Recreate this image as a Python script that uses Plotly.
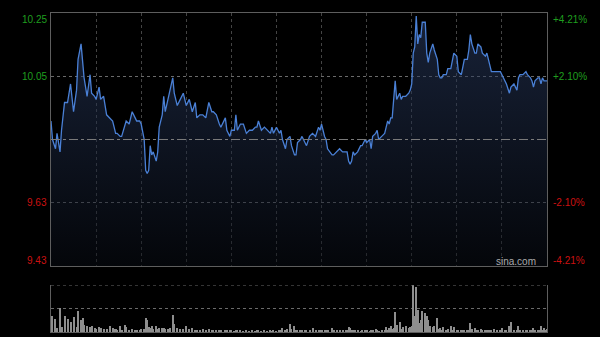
import plotly.graph_objects as go

# Intraday minute index (0 = 09:30, 330 = 16:00, HK session without lunch gap)
minutes = [
    0, 1, 3, 4, 6, 7, 9, 11, 13, 15,
    17, 18, 20, 21, 22, 24, 26, 27, 29, 30,
    32, 33, 35, 37, 39, 41, 42, 43, 44, 46,
    47, 49, 50, 52, 54, 56, 57, 59, 60, 62,
    63, 64, 65, 66, 67, 68, 70, 71, 72, 74,
    75, 76, 78, 79, 81, 82, 84, 86, 88, 90,
    92, 94, 96, 97, 99, 101, 103, 105, 107, 108,
    110, 112, 113, 116, 117, 119, 120, 122, 123, 124,
    126, 128, 130, 132, 134, 136, 137, 138, 140, 142,
    144, 146, 147, 148, 150, 152, 153, 154, 156, 157,
    159, 160, 162, 163, 164, 166, 167, 169, 170, 172,
    174, 176, 178, 179, 180, 182, 183, 184, 187, 188,
    190, 192, 194, 196, 197, 198, 199, 200, 201, 202,
    204, 206, 207, 209, 210, 212, 213, 214, 216, 217,
    218, 220, 222, 223, 224, 225, 226, 227, 228, 229,
    230, 232, 233, 234, 236, 238, 239, 240, 241, 242,
    243, 244, 245, 246, 247, 249, 250, 251, 252, 254,
    255, 257, 258, 259, 260, 261, 263, 264, 266, 267,
    268, 270, 271, 273, 274, 275, 277, 278, 279, 280,
    282, 283, 284, 286, 287, 289, 290, 291, 292, 293,
    295, 297, 299, 300, 302, 303, 305, 306, 308, 310,
    311, 312, 314, 316, 317, 319, 320, 321, 322, 324,
    325, 326, 327, 328, 329, 330,
]

prices = [
    9.90, 9.84, 9.81, 9.86, 9.80, 9.87, 9.96, 9.96, 10.02, 9.93,
    10.00, 10.10, 10.15, 10.10, 10.04, 9.98, 10.05, 9.99, 9.98, 9.97,
    10.01, 9.97, 9.98, 9.92, 9.91, 9.90, 9.88, 9.86, 9.86, 9.85,
    9.85, 9.89, 9.90, 9.89, 9.93, 9.91, 9.90, 9.90, 9.89, 9.84,
    9.74, 9.73, 9.74, 9.82, 9.79, 9.80, 9.77, 9.80, 9.88, 9.92,
    9.98, 9.93, 9.97, 9.99, 10.04, 9.99, 9.95, 9.97, 9.99, 9.95,
    9.97, 9.93, 9.96, 9.91, 9.92, 9.92, 9.91, 9.96, 9.93, 9.93,
    9.92, 9.89, 9.88, 9.91, 9.87, 9.85, 9.87, 9.87, 9.92, 9.87,
    9.89, 9.89, 9.86, 9.87, 9.87, 9.88, 9.88, 9.90, 9.87, 9.88,
    9.87, 9.86, 9.88, 9.86, 9.88, 9.86, 9.87, 9.84, 9.81, 9.84,
    9.85, 9.82, 9.79, 9.79, 9.83, 9.84, 9.85, 9.83, 9.82, 9.85,
    9.86, 9.85, 9.88, 9.87, 9.89, 9.85, 9.84, 9.81, 9.79, 9.79,
    9.80, 9.81, 9.80, 9.80, 9.80, 9.77, 9.76, 9.77, 9.80, 9.79,
    9.80, 9.82, 9.82, 9.84, 9.83, 9.84, 9.81, 9.85, 9.86, 9.87,
    9.84, 9.85, 9.86, 9.88, 9.90, 9.89, 9.91, 9.91, 9.97, 10.03,
    9.97, 9.99, 9.97, 9.98, 9.98, 9.99, 10.00, 10.02, 10.12, 10.14,
    10.24, 10.15, 10.18, 10.17, 10.22, 10.22, 10.12, 10.09, 10.12, 10.15,
    10.13, 10.10, 10.05, 10.04, 10.04, 10.05, 10.05, 10.07, 10.07, 10.10,
    10.12, 10.11, 10.06, 10.05, 10.07, 10.10, 10.10, 10.13, 10.18, 10.15,
    10.12, 10.12, 10.15, 10.14, 10.12, 10.11, 10.12, 10.10, 10.07, 10.06,
    10.06, 10.06, 10.06, 10.05, 10.03, 10.02, 9.99, 10.01, 10.02, 10.00,
    10.04, 10.05, 10.05, 10.06, 10.05, 10.04, 10.03, 10.01, 10.03, 10.04,
    10.04, 10.02, 10.04, 10.03, 10.03, 10.03,
]

# Relative volume (tallest bar = 100)
volumes = [
    33, 34, 27, 8, 50, 10, 34, 27, 22, 31,
    10, 45, 26, 29, 15, 12, 10, 13, 8, 7,
    10, 8, 7, 6, 12, 8, 7, 6, 5, 12,
    5, 14, 10, 5, 6, 5, 4, 4, 6, 7,
    29, 26, 10, 8, 12, 7, 12, 6, 8, 9,
    8, 7, 6, 8, 36, 18, 8, 6, 7, 12,
    6, 8, 5, 4, 5, 6, 4, 6, 3, 4,
    3, 5, 3, 4, 3, 3, 4, 2, 5, 3,
    3, 2, 3, 2, 3, 2, 3, 4, 2, 3,
    2, 3, 2, 3, 2, 3, 4, 8, 5, 6,
    17, 6, 12, 5, 4, 3, 4, 3, 3, 4,
    8, 3, 4, 3, 4, 3, 4, 5, 9, 4,
    3, 4, 3, 4, 3, 10, 8, 4, 3, 3,
    3, 2, 3, 4, 3, 2, 3, 4, 6, 3,
    2, 3, 4, 10, 5, 8, 12, 6, 8, 43,
    15, 22, 6, 10, 13, 8, 10, 12, 100, 33,
    96, 47, 20, 26, 45, 40, 33, 26, 12, 10,
    13, 29, 6, 8, 5, 10, 4, 6, 13, 5,
    10, 5, 4, 3, 4, 3, 4, 5, 20, 6,
    8, 4, 3, 6, 3, 4, 3, 4, 3, 3,
    6, 3, 4, 8, 3, 5, 12, 22, 5, 4,
    12, 5, 3, 4, 3, 4, 5, 8, 4, 3,
    4, 12, 5, 8, 4, 6,
]

price_min, price_max = 9.43, 10.25
prev_close = 9.84
price_grid = [10.045, 9.635]
left_labels = ["10.25", "10.05", "9.63", "9.43"]
right_labels = ["+4.21%", "+2.10%", "-2.10%", "-4.21%"]
label_values = [10.25, 10.045, 9.635, 9.43]
label_colors = ["#1f9e1f", "#1f9e1f", "#cc1111", "#cc1111"]
label_shifts = [-6, 0, 0, 6]
time_grid = [30, 60, 90, 120, 150, 180, 210, 240, 270, 300]

fig = go.Figure()

fig.add_trace(go.Scatter(
    x=minutes, y=prices, mode="lines",
    line=dict(color="#4a80d6", width=1.3),
    fill="tozeroy",
    fillgradient=dict(type="vertical",
                      colorscale=[[0, "rgba(8,12,20,0.5)"], [1, "rgba(48,68,112,0.5)"]],
                      start=price_min, stop=price_max),
    xaxis="x", yaxis="y", hoverinfo="skip",
))

fig.add_trace(go.Bar(
    x=minutes, y=volumes, width=0.7,
    marker=dict(color="#8e8e8e", line=dict(width=0)),
    xaxis="x2", yaxis="y2", hoverinfo="skip",
))

frame = "#5e5e5e"
fig.update_layout(
    width=600, height=337,
    margin=dict(l=51, r=53, t=13, b=5),
    paper_bgcolor="#000000", plot_bgcolor="#000000",
    showlegend=False, bargap=0,
    xaxis=dict(domain=[0, 1], range=[0, 330], anchor="y",
               tickvals=time_grid, showticklabels=False, ticks="",
               showgrid=True, gridcolor="#444444", griddash="dot", gridwidth=1,
               zeroline=False, showline=True, mirror=True, linecolor=frame, linewidth=1),
    yaxis=dict(domain=[0.2069, 1], range=[price_min, price_max], anchor="x",
               tickvals=price_grid, showticklabels=False, ticks="",
               showgrid=True, gridcolor="#6a6a6a", griddash="dot", gridwidth=1,
               zeroline=False, showline=True, mirror=True, linecolor=frame, linewidth=1),
    xaxis2=dict(domain=[0, 1], range=[0, 330], anchor="y2",
                showticklabels=False, ticks="", showgrid=False, zeroline=False,
                showline=True, mirror=False, linecolor=frame, linewidth=1),
    yaxis2=dict(domain=[0, 0.1473], range=[0, 100], anchor="x2",
                tickvals=[50], showticklabels=False, ticks="",
                showgrid=True, gridcolor="#6a6a6a", griddash="dot", gridwidth=1,
                zeroline=False, showline=True, mirror=True, linecolor=frame, linewidth=1),
)

fig.add_shape(type="line", xref="paper", yref="y", x0=0, x1=1,
              y0=prev_close, y1=prev_close,
              line=dict(color="#7a7a7a", width=1, dash="dashdot"))
fig.add_shape(type="line", xref="x2", yref="y2", x0=0, x1=330, y0=100, y1=100,
              line=dict(color="#6a6a6a", width=1, dash="dot"))

font = "Liberation Sans, Arial, sans-serif"
for txt, val, col, sh in zip(left_labels, label_values, label_colors, label_shifts):
    fig.add_annotation(x=0, xref="paper", y=val, yref="y", text=txt,
                       showarrow=False, xanchor="right", yanchor="middle",
                       xshift=-2, yshift=sh, font=dict(family=font, size=10, color=col))
for txt, val, col, sh in zip(right_labels, label_values, label_colors, label_shifts):
    fig.add_annotation(x=1, xref="paper", y=val, yref="y", text=txt,
                       showarrow=False, xanchor="left", yanchor="middle",
                       xshift=4, yshift=sh, font=dict(family=font, size=10, color=col))

fig.add_annotation(x=1, xref="paper", y=price_min, yref="y", text="sina.com",
                   showarrow=False, xanchor="right", yanchor="bottom",
                   xshift=-9, yshift=-3, font=dict(family=font, size=10, color="#aaaaaa"))

fig.write_html("out.html")
